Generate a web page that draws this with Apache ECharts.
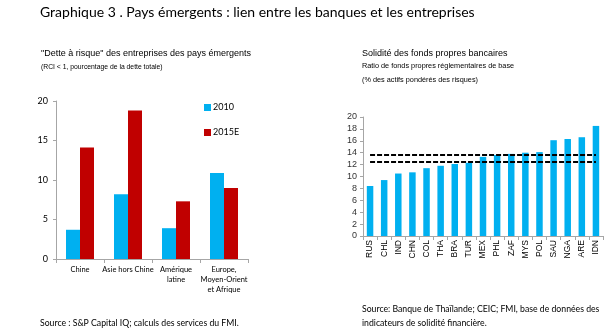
<!DOCTYPE html>
<html><head><meta charset="utf-8">
<script src="https://cdn.jsdelivr.net/npm/echarts@6/dist/echarts.min.js"></script>
<style>html,body{margin:0;padding:0;background:#fff}#c{width:614px;height:330px}</style>
</head><body><div id="c"></div>
<script>
var leftCategories = ['Chine', 'Asie hors Chine', 'Amérique\nlatine', 'Europe,\nMoyen-Orient\net Afrique'];
var values2010 = [3.7, 8.2, 3.9, 10.9];
var values2015 = [14.1, 18.8, 7.3, 9.0];
var leftTicks = [0, 5, 10, 15, 20];

var rightCategories = ['RUS','CHL','IND','CHN','COL','THA','BRA','TUR','MEX','PHL','ZAF','MYS','POL','SAU','NGA','ARE','IDN'];
var capitalRatio = [8.4, 9.4, 10.5, 10.7, 11.4, 11.8, 12.1, 12.3, 13.3, 13.6, 13.8, 14.0, 14.1, 16.1, 16.3, 16.6, 18.5];
var refLines = [13.6, 12.4];
var rightTicks = [0, 2, 4, 6, 8, 10, 12, 14, 16, 18, 20];

var BLUE = '#00B0F0', RED = '#C00000', AX = '#A6A6A6';
var calibri = 'Lato, "Open Sans", sans-serif';
var arial = '"Liberation Sans", Arial, sans-serif';

function t(text, left, top, font, size) {
  return {text: text, left: left, top: top, padding: 0,
    textStyle: {fontFamily: font, fontSize: size, fontWeight: 'normal', color: '#000'}};
}

var chart = echarts.init(document.getElementById('c'), null, {renderer: 'canvas'});
var markData = refLines.map(function (v) {
  return [{xAxis: rightCategories[0], yAxis: v}, {xAxis: rightCategories[rightCategories.length - 1], yAxis: v}];
});
chart.setOption({
  animation: false,
  title: [
    t('Graphique 3 . Pays émergents : lien entre les banques et les entreprises', 40, 5, calibri, 14),
    t('"Dette à risque" des entreprises des pays émergents', 41, 49, arial, 9),
    t('(RCI < 1, pourcentage de la dette totale)', 41, 64, arial, 6.8),
    t('Solidité des fonds propres bancaires', 362, 49, arial, 9),
    t('Ratio de fonds propres réglementaires de base', 362, 62, arial, 7.3),
    t('(% des actifs pondérés des risques)', 362, 76, arial, 7.3),
    t('Source : S&P Capital IQ; calculs des services du FMI.', 40, 319, calibri, 8.7),
    t('Source: Banque de Thaïlande; CEIC; FMI, base de données des', 362, 305, calibri, 8.7),
    t('indicateurs de solidité financière.', 362, 319, calibri, 8.7)
  ],
  legend: {
    orient: 'vertical', left: 204, top: 103, padding: 0, itemWidth: 7, itemHeight: 7, itemGap: 16,
    icon: 'rect', data: ['2010', '2015E'],
    textStyle: {fontFamily: calibri, fontSize: 9, color: '#000', padding: [0, 0, 0, -3]}
  },
  grid: [
    {left: 56, top: 101, width: 192, height: 158},
    {left: 363, top: 117, width: 240, height: 119}
  ],
  xAxis: [
    {type: 'category', gridIndex: 0, data: leftCategories,
     axisLine: {lineStyle: {color: AX}}, axisTick: {show: true, length: 4, lineStyle: {color: AX}},
     axisLabel: {fontFamily: calibri, fontSize: 7.5, color: '#000', lineHeight: 10, margin: 6, interval: 0}},
    {type: 'category', gridIndex: 1, data: rightCategories,
     axisLine: {lineStyle: {color: AX}}, axisTick: {show: true, length: 4, lineStyle: {color: AX}},
     axisLabel: {fontFamily: arial, fontSize: 8.5, color: '#000', rotate: 90, margin: 4, interval: 0}}
  ],
  yAxis: [
    {type: 'value', gridIndex: 0, min: 0, max: 20, interval: 5,
     axisLine: {show: true, lineStyle: {color: AX}}, axisTick: {show: true, length: 3, lineStyle: {color: AX}},
     splitLine: {show: false},
     axisLabel: {fontFamily: calibri, fontSize: 9, color: '#000', margin: 8}},
    {type: 'value', gridIndex: 1, min: 0, max: 20, interval: 2,
     axisLine: {show: true, lineStyle: {color: AX}}, axisTick: {show: true, length: 3, lineStyle: {color: AX}},
     splitLine: {show: false},
     axisLabel: {fontFamily: arial, fontSize: 9, color: '#333', margin: 6}}
  ],
  series: [
    {name: '2010', type: 'bar', xAxisIndex: 0, yAxisIndex: 0, data: values2010,
     itemStyle: {color: BLUE}, barWidth: 14, barGap: '0%'},
    {name: '2015E', type: 'bar', xAxisIndex: 0, yAxisIndex: 0, data: values2015,
     itemStyle: {color: RED}, barWidth: 14, barGap: '0%'},
    {name: 'ratio', type: 'bar', xAxisIndex: 1, yAxisIndex: 1, data: capitalRatio,
     itemStyle: {color: BLUE}, barWidth: 6.5,
     markLine: {silent: true, symbol: ['none', 'none'], label: {show: false},
       lineStyle: {color: '#000', type: [5, 2], width: 2}, data: markData}}
  ]
});
</script></body></html>
